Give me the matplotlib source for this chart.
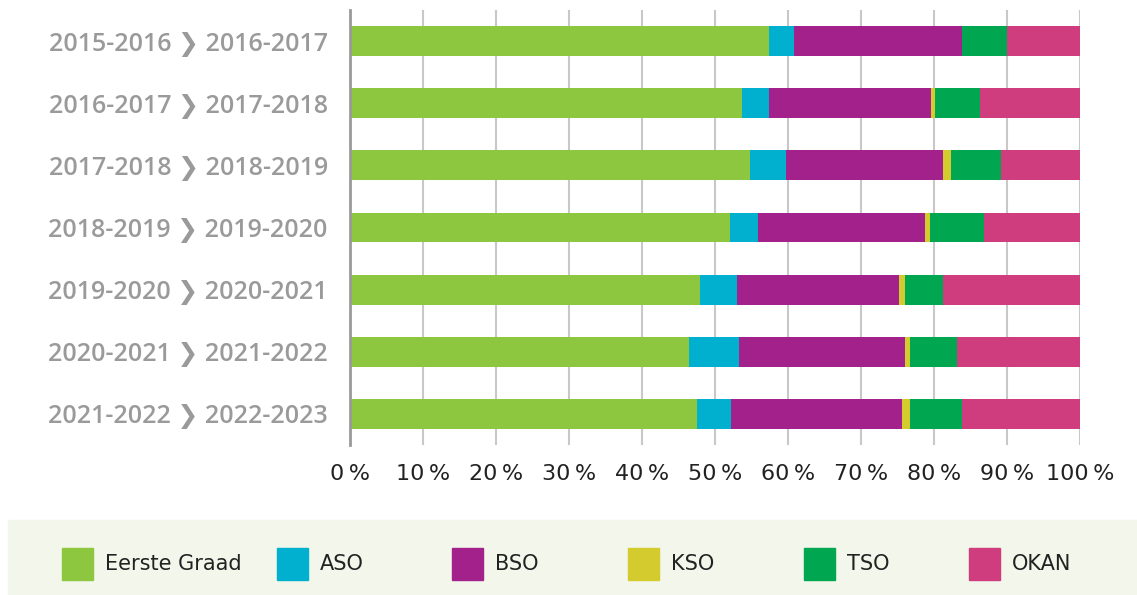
import matplotlib
matplotlib.use("Agg")
import matplotlib.pyplot as plt
from matplotlib.patches import Rectangle
import numpy as np

categories = [
    "2015-2016", "2016-2017", "2017-2018", "2018-2019",
    "2019-2020", "2020-2021", "2021-2022", "2022-2023",
]
series_names = ["Eerste Graad", "ASO", "BSO", "KSO", "TSO", "OKAN"]
eerste_graad = [57.4, 53.7, 54.8, 52.1, 48.0, 46.4, 47.6]
aso = [3.45, 3.7, 4.9, 3.8, 5.0, 6.9, 4.6]
bso = [22.95, 22.2, 21.5, 22.9, 22.2, 22.7, 23.4]
kso = [0.0, 0.6, 1.1, 0.6, 0.8, 0.7, 1.1]
tso = [6.2, 6.1, 6.9, 7.5, 5.2, 6.4, 7.2]
okan = [10.0, 13.7, 10.8, 13.1, 18.8, 16.9, 16.1]
colors = ["#8dc63f", "#00b0ce", "#a3218a", "#d4cb2f", "#00a650", "#d03d7e"]
xticks = [0, 10, 20, 30, 40, 50, 60, 70, 80, 90, 100]

series = [eerste_graad, aso, bso, kso, tso, okan]
labels = [f"{a} \u276F {b}" for a, b in zip(categories[:-1], categories[1:])]

fig = plt.figure(figsize=(11.37, 5.95), dpi=100)
ax = fig.add_axes([350 / 1137, 1 - 445 / 595, 730 / 1137, 435 / 595])

y = np.arange(len(labels))
left = np.zeros(len(labels))
tot = np.array([sum(s[i] for s in series) for i in range(len(labels))])
for vals, col, name in zip(series, colors, series_names):
    v = np.array(vals, dtype=float) / tot * 100
    ax.barh(y, v, left=left, height=0.48, color=col, label=name, zorder=3)
    left += v

ax.set_xlim(0, 100)
ax.set_ylim(len(labels) - 0.5, -0.5)
ax.set_xticks(xticks)
ax.set_xticklabels([f"{t}\u2009%" for t in xticks], fontsize=16, color="#222222",
                   family=["DejaVu Sans"])
ax.set_yticks(y)
ax.set_yticklabels(labels, fontsize=18, color="#9a9a9a", fontweight="semibold",
                   family=["Open Sans", "DejaVu Sans"])
for t in ax.get_yticklabels():
    t.set_y(t.get_position()[1])
ax.tick_params(axis="both", length=0)
ax.tick_params(axis="x", pad=14)
ax.tick_params(axis="y", pad=16)
ax.grid(axis="x", color="#c8c8c8", linewidth=1.5, zorder=0)
for s in ["top", "right", "bottom"]:
    ax.spines[s].set_visible(False)
ax.spines["left"].set_color("#9a9a9a")
ax.spines["left"].set_linewidth(2)
ax.spines["left"].set_zorder(4)

# legend panel
fig.patches.append(Rectangle((8 / 1137, 0), 1 - 8 / 1137, 75 / 595,
                             transform=fig.transFigure, color="#f3f6ea", zorder=0))
leg_x = [62, 277, 452, 628, 804, 969]
for name, col, lx in zip(series_names, colors, leg_x):
    fig.patches.append(Rectangle((lx / 1137, (595 - 580) / 595), 31 / 1137, 32 / 595,
                                 transform=fig.transFigure, color=col, zorder=1))
    fig.text((lx + 43) / 1137, (595 - 564) / 595, name, fontsize=15, color="#222222",
             va="center", ha="left")

fig.savefig("out.png", dpi=100)
